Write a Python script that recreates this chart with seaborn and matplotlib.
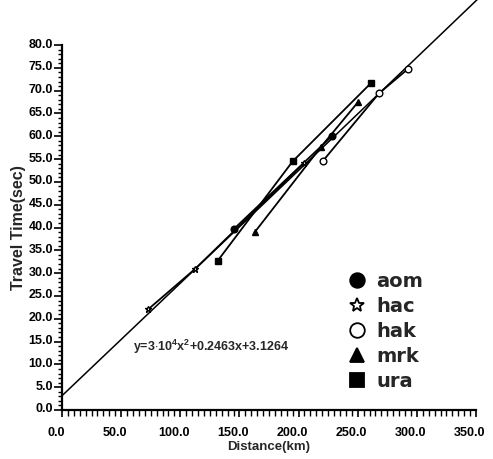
import numpy as np
import pandas as pd
import matplotlib
matplotlib.use("Agg")
import matplotlib.pyplot as plt
import matplotlib.transforms as mtransforms
from matplotlib.lines import Line2D
from matplotlib.ticker import MultipleLocator, FormatStrFormatter
import seaborn as sns

# Travel times picked at each station (distance in km, time in s)
stations = ["aom", "hac", "hak", "mrk", "ura"]
aom_dist = [145.0, 228.5]
aom_time = [39.6, 60.1]
hac_dist = [73.0, 112.4, 204.6]
hac_time = [22.1, 30.9, 54.1]
hak_dist = [220.3, 268.0, 292.7]
hak_time = [54.5, 69.4, 74.8]
mrk_dist = [163.0, 219.0, 250.0]
mrk_time = [39.0, 57.7, 67.4]
ura_dist = [131.6, 195.0, 261.0]
ura_time = [32.7, 54.5, 71.6]

# Fitted travel-time curve y = a*x^2 + b*x + c
fit_a = 3e-6
fit_b = 0.2463
fit_c = 3.1264
fit_label = r"y=3$\cdot$10$^{4}$x$^{2}$+0.2463x+3.1264"

x_ticks = np.arange(0, 351, 50)
y_ticks = np.arange(0, 81, 5)

dist = {"aom": aom_dist, "hac": hac_dist, "hak": hak_dist, "mrk": mrk_dist, "ura": ura_dist}
time = {"aom": aom_time, "hac": hac_time, "hak": hak_time, "mrk": mrk_time, "ura": ura_time}
rows = [(s, d, t) for s in stations for d, t in zip(dist[s], time[s])]
df = pd.DataFrame(rows, columns=["station", "distance", "time"])

marker_style = {
    "aom": dict(marker="o", markerfacecolor="black"),
    "hac": dict(marker="*", markerfacecolor="white"),
    "hak": dict(marker="o", markerfacecolor="white"),
    "mrk": dict(marker="^", markerfacecolor="black"),
    "ura": dict(marker="s", markerfacecolor="black"),
}

sns.set_theme(style="white")
plt.rcParams["font.family"] = ["Liberation Sans", "DejaVu Sans"]
plt.rcParams["font.weight"] = "bold"
plt.rcParams["mathtext.fontset"] = "custom"
plt.rcParams["mathtext.rm"] = "Liberation Sans:bold"
plt.rcParams["mathtext.it"] = "Liberation Sans:bold"
plt.rcParams["mathtext.bf"] = "Liberation Sans:bold"

fig = plt.figure(figsize=(4.93, 4.59), dpi=100)
ax = fig.add_axes([62 / 493, 1 - 410 / 459, (476 - 62) / 493, (410 - 45) / 459])

# Station curves
for s in stations:
    sub = df[df["station"] == s]
    sns.lineplot(data=sub, x="distance", y="time", ax=ax, color="black",
                 linewidth=1.3, markersize=4.8, markeredgecolor="black",
                 markeredgewidth=1.0, sort=True, estimator=None, legend=False,
                 **marker_style[s])

# Regression curve, running past the frame to the figure edge
xf = np.linspace(0, 370, 200)
yf = fit_a * xf ** 2 + fit_b * xf + fit_c
ax.plot(xf, yf, color="black", linewidth=1.1, clip_on=False, zorder=1)

ax.text(133 / 493, 1 - 347 / 459, fit_label, transform=fig.transFigure,
        fontsize=9, fontweight="bold", ha="left", va="center")

ax.set_xlim(0, 350)
ax.set_ylim(0, 80)
ax.set_xticks(x_ticks)
ax.set_yticks(y_ticks)
ax.xaxis.set_minor_locator(MultipleLocator(5))
ax.yaxis.set_minor_locator(MultipleLocator(1))
ax.xaxis.set_major_formatter(FormatStrFormatter("%.1f"))
ax.yaxis.set_major_formatter(FormatStrFormatter("%.1f"))

for side in ["top", "right"]:
    ax.spines[side].set_visible(False)
for side in ["left", "bottom"]:
    ax.spines[side].set_linewidth(1.6)
    ax.spines[side].set_color("black")

ax.tick_params(axis="y", which="major", direction="out", length=6, width=1.2,
               pad=0.5, labelsize=9, colors="black", left=True)
ax.tick_params(axis="y", which="minor", direction="out", length=3, width=1.0,
               left=True, colors="black")
ax.tick_params(axis="x", which="major", direction="out", length=5, width=1.2,
               pad=7, labelsize=9, colors="black", bottom=True)
ax.tick_params(axis="x", which="minor", direction="out", length=4, width=1.0,
               bottom=True, colors="black")
for lab in ax.get_xticklabels():
    lab.set_fontweight("bold")
    lab.set_transform(lab.get_transform() + mtransforms.ScaledTranslation(-6 / 100, 0, fig.dpi_scale_trans))
for lab in ax.get_yticklabels():
    lab.set_fontweight("bold")
    lab.set_transform(lab.get_transform() + mtransforms.ScaledTranslation(0, 2 / 100, fig.dpi_scale_trans))

ax.set_xlabel("Distance(km)", fontsize=9.5, fontweight="bold", labelpad=2)
ax.set_ylabel("Travel Time(sec)", fontsize=11.5, fontweight="bold", labelpad=2)

handles = [Line2D([], [], color="black", linestyle="none", markersize=10.5,
                  markeredgecolor="black", markeredgewidth=1.3, **marker_style[s])
           for s in stations]
fig.legend(handles, stations, loc="upper left",
           bbox_to_anchor=(347 / 493, 1 - 272 / 459), frameon=False,
           prop={"family": "DejaVu Sans", "size": 14, "weight": "bold"},
           handlelength=1.0, handletextpad=0.5, labelspacing=0.31,
           borderpad=0, borderaxespad=0)

fig.savefig("out.png", dpi=100, facecolor="white")
